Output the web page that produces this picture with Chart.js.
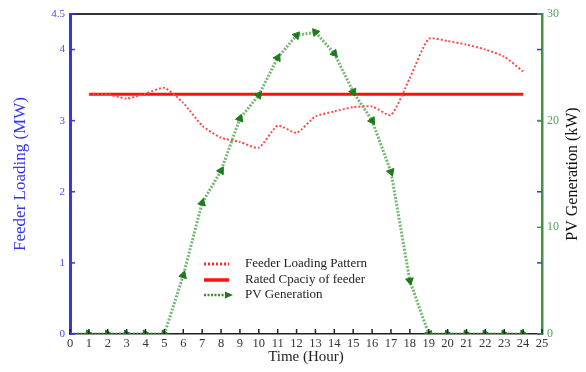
<!DOCTYPE html>
<html>
<head>
<meta charset="utf-8">
<script src="https://cdn.jsdelivr.net/npm/chart.js@4.4.1/dist/chart.umd.min.js"></script>
<style>
  html, body { margin: 0; padding: 0; background: #fff; }
  #wrap { width: 586px; height: 372px; }
</style>
</head>
<body>
<div id="wrap"><canvas id="chart"></canvas></div>
<script>
// data
const pvHours = [0, 1, 2, 3, 4, 5, 6, 7, 8, 9, 10, 11, 12, 13, 14, 15, 16, 17, 18, 19, 20, 21, 22, 23, 24];
const pvKW = [0, 0, 0, 0, 0, 0, 5.5, 12.3, 15.3, 20.2, 22.4, 25.9, 28.0, 28.3, 26.3, 22.7, 20.0, 15.2, 5.0, 0, 0, 0, 0, 0, 0];
const loadHours = [1, 2, 3, 4, 5, 6, 7, 8, 9, 10, 11, 12, 13, 14, 15, 16, 17, 18, 19, 20, 21, 22, 23, 24];
const loadMW = [3.37, 3.37, 3.31, 3.38, 3.46, 3.25, 2.93, 2.76, 2.70, 2.62, 2.93, 2.83, 3.06, 3.13, 3.19, 3.20, 3.08, 3.60, 4.15, 4.12, 4.07, 4.00, 3.90, 3.69];
const ratedHours = [1, 24];
const ratedMW = [3.37, 3.37];

const xTicks = [0, 1, 2, 3, 4, 5, 6, 7, 8, 9, 10, 11, 12, 13, 14, 15, 16, 17, 18, 19, 20, 21, 22, 23, 24, 25];
const leftTicks = [0, 1, 2, 3, 4, 4.5];
const rightTicks = [0, 10, 20, 30];

const serif = "'Liberation Serif', 'Times New Roman', serif";
const blue = "#3535f0";
const green = "#3f963f";

function pts(xs, ys) {
    return xs.map((x, i) => ({ x, y: ys[i] }));
}

// point the arrow markers along the incoming segment
function arrowRotation(ctx) {
    const i = ctx.dataIndex;
    const data = ctx.dataset.data;
    if (i === 0) return 90;
    const sx = ctx.chart.scales.x;
    const sy = ctx.chart.scales.y2;
    const dx = sx.getPixelForValue(data[i].x) - sx.getPixelForValue(data[i - 1].x);
    const dy = sy.getPixelForValue(data[i].y) - sy.getPixelForValue(data[i - 1].y);
    return Math.atan2(dy, dx) * 180 / Math.PI + 90;
}

function line(ctx, x1, y1, x2, y2) {
    ctx.beginPath();
    ctx.moveTo(x1, y1);
    ctx.lineTo(x2, y2);
    ctx.stroke();
}

const decor = {
    id: "decor",
    afterDraw(chart) {
        const { ctx, chartArea: a, scales } = chart;
        ctx.save();

        // top frame line
        ctx.strokeStyle = "#333";
        ctx.lineWidth = 2;
        line(ctx, a.left, a.top, a.right, a.top);

        // inward ticks
        ctx.lineWidth = 1.5;
        ctx.strokeStyle = "#222";
        xTicks.forEach((v) => {
            const px = scales.x.getPixelForValue(v);
            line(ctx, px, a.bottom, px, a.bottom - 5);
        });
        ctx.strokeStyle = blue;
        leftTicks.forEach((v) => {
            const py = scales.y.getPixelForValue(v);
            line(ctx, a.left, py, a.left + 5, py);
            line(ctx, a.right, py, a.right - 5, py);
        });
        ctx.strokeStyle = green;
        rightTicks.forEach((v) => {
            const py = scales.y2.getPixelForValue(v);
            line(ctx, a.right, py, a.right - 5, py);
        });

        // legend
        const sets = chart.data.datasets;
        const order = [1, 2, 0];
        const rows = [264, 280, 295];
        ctx.font = "13px " + serif;
        ctx.textBaseline = "middle";
        ctx.textAlign = "left";
        order.forEach((di, r) => {
            const ds = sets[di];
            const y = rows[r];
            ctx.strokeStyle = ds.legendColor;
            ctx.lineWidth = ds.legendWidth;
            ctx.setLineDash(ds.borderDash || []);
            line(ctx, 204, y, 229, y);
            ctx.setLineDash([]);
            if (ds.pointStyle === "triangle") {
                ctx.fillStyle = ds.pointBackgroundColor;
                ctx.beginPath();
                ctx.moveTo(233, y);
                ctx.lineTo(225, y - 3.5);
                ctx.lineTo(225, y + 3.5);
                ctx.closePath();
                ctx.fill();
            }
            ctx.fillStyle = "#222";
            ctx.fillText(ds.label, 245, y);
        });

        // right axis title, reading bottom to top
        ctx.translate(573, (a.top + a.bottom) / 2);
        ctx.rotate(-Math.PI / 2);
        ctx.textAlign = "center";
        ctx.font = "16px " + serif;
        ctx.fillStyle = "#111";
        ctx.fillText("PV Generation (kW)", 0, 0);

        ctx.restore();
    },
};

new Chart(document.getElementById("chart"), {
    type: "line",
    data: {
        datasets: [
            {
                label: "PV Generation",
                data: pts(pvHours, pvKW),
                yAxisID: "y2",
                borderColor: "rgba(70, 160, 70, 0.75)",
                legendColor: "#2f8f2f",
                borderWidth: 3,
                legendWidth: 2.5,
                borderDash: [2, 1.5],
                pointStyle: "triangle",
                pointRadius: (ctx) => (ctx.dataIndex === 0 ? 0 : 4.5),
                pointRotation: arrowRotation,
                pointBackgroundColor: "#1d7a1d",
                pointBorderColor: "#1d7a1d",
                pointBorderWidth: 1,
                tension: 0,
            },
            {
                label: "Feeder Loading Pattern",
                data: pts(loadHours, loadMW),
                yAxisID: "y",
                borderColor: "#ff4a4a",
                legendColor: "#ff2a2a",
                borderWidth: 2,
                legendWidth: 3,
                borderDash: [2, 2],
                pointRadius: 0,
                tension: 0.2,
            },
            {
                label: "Rated Cpaciy of feeder",
                data: pts(ratedHours, ratedMW),
                yAxisID: "y",
                borderColor: "#ff1010",
                legendColor: "#ff1010",
                borderWidth: 3,
                legendWidth: 3.5,
                pointRadius: 0,
            },
        ],
    },
    options: {
        responsive: true,
        maintainAspectRatio: false,
        animation: false,
        events: [],
        layout: { padding: { top: 14, left: 0, right: 0, bottom: 0 } },
        plugins: { legend: { display: false }, tooltip: { enabled: false } },
        scales: {
            x: {
                type: "linear",
                position: "bottom",
                min: 0,
                max: 25,
                afterBuildTicks(scale) {
                    scale.ticks = xTicks.map((v) => ({ value: v }));
                },
                afterFit(scale) {
                    scale.height = 38;
                },
                grid: { display: false, drawTicks: false },
                border: { display: true, color: "#222", width: 1.5 },
                ticks: {
                    autoSkip: false,
                    maxRotation: 0,
                    padding: 2,
                    color: "#333",
                    font: { family: serif, size: 12.5 },
                },
                title: {
                    display: true,
                    text: "Time (Hour)",
                    color: "#222",
                    font: { family: serif, size: 15 },
                    padding: { top: 6, bottom: 6 },
                },
            },
            y: {
                position: "left",
                min: 0,
                max: 4.5,
                afterBuildTicks(scale) {
                    scale.ticks = leftTicks.map((v) => ({ value: v }));
                },
                afterFit(scale) {
                    scale.width = 70;
                },
                grid: { display: false, drawTicks: false },
                border: { display: true, color: blue, width: 3 },
                ticks: {
                    padding: 5,
                    color: "#4a4af5",
                    font: { family: serif, size: 11 },
                    callback: (v) => String(v),
                },
                title: {
                    display: true,
                    text: "Feeder Loading (MW)",
                    color: blue,
                    font: { family: serif, size: 17 },
                    padding: { top: 10, bottom: 10 },
                },
            },
            y2: {
                position: "right",
                min: 0,
                max: 30,
                afterBuildTicks(scale) {
                    scale.ticks = rightTicks.map((v) => ({ value: v }));
                },
                afterFit(scale) {
                    scale.width = 44;
                },
                grid: { display: false, drawTicks: false },
                border: { display: true, color: green, width: 2.5 },
                ticks: {
                    padding: 5,
                    color: "#4fa34f",
                    font: { family: serif, size: 12 },
                },
            },
        },
    },
    plugins: [decor],
});
</script>
</body>
</html>
